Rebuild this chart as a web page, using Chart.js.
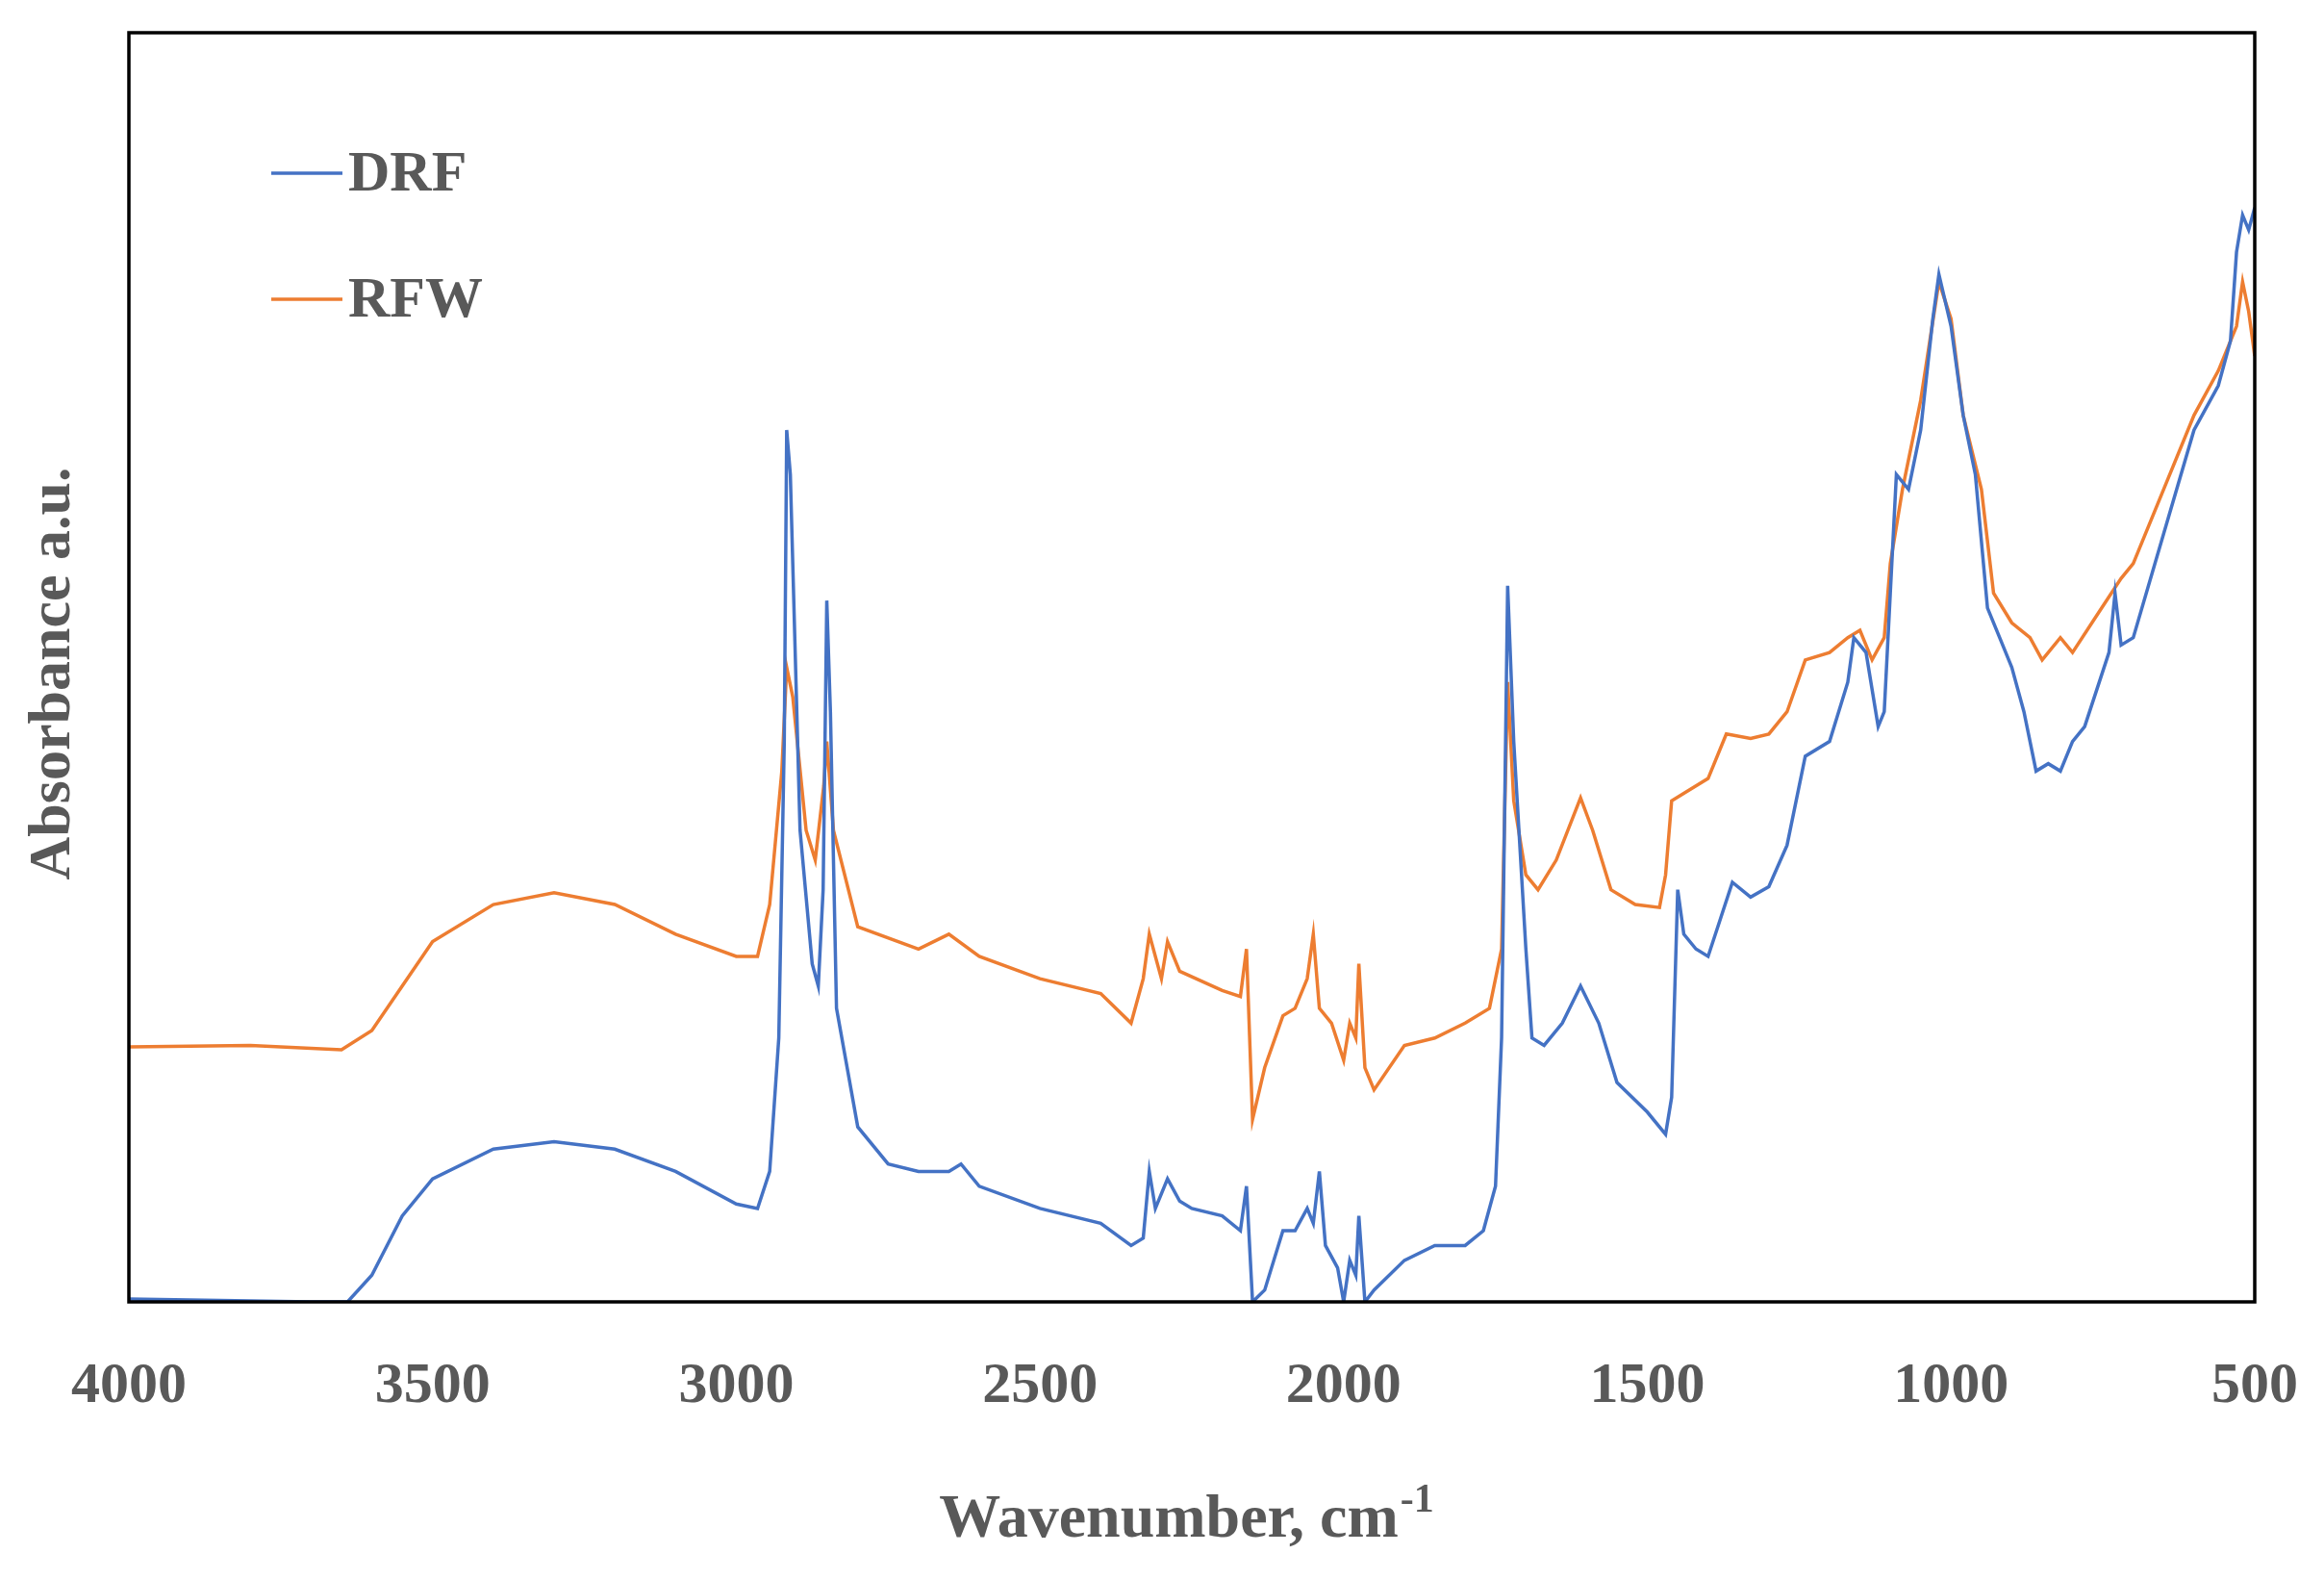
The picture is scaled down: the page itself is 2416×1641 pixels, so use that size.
<!DOCTYPE html>
<html><head><meta charset="utf-8">
<script src="https://cdn.jsdelivr.net/npm/chart.js@4"></script>
<style>html,body{margin:0;padding:0;background:#fff}#wrap{width:2416px;height:1641px}</style>
</head><body><div id="wrap"><canvas id="c"></canvas></div>
<script>
// Values are depth-from-top readings (arbitrary absorbance units, axis reversed)
const drfWave = [4000,3700,3640,3600,3550,3500,3400,3300,3200,3100,3000,2965,2945,2930,2921,2917,2911,2895,2875,2865,2857,2851,2845,2835,2800,2750,2700,2650,2630,2600,2500,2400,2350,2330,2320,2310,2290,2270,2250,2200,2170,2160,2150,2130,2100,2080,2060,2050,2040,2030,2010,2000,1990,1980,1975,1965,1950,1900,1850,1800,1770,1750,1740,1730,1720,1700,1690,1670,1640,1610,1580,1550,1500,1470,1460,1450,1440,1420,1400,1380,1360,1330,1300,1270,1240,1200,1170,1160,1140,1120,1110,1100,1090,1070,1050,1030,1020,1000,980,960,940,920,900,880,860,840,820,800,780,760,740,730,720,700,650,600,560,540,530,520,510,500];
const drfAbs = [876,878,878,860,820,795,775,770,775,790,812,815,790,700,500,290,320,560,650,665,600,405,480,680,760,785,790,790,785,800,815,825,840,835,790,815,795,810,815,820,830,800,878,870,830,830,815,825,790,840,855,878,850,860,820,878,870,850,840,840,830,800,700,395,500,640,700,705,690,665,690,730,750,765,740,600,630,640,645,620,595,605,598,570,510,500,460,430,440,490,480,400,320,330,290,215,185,220,280,320,410,430,450,480,520,515,520,500,490,465,440,400,435,430,360,290,260,230,170,145,155,140];
const rfwWave = [4000,3800,3650,3600,3550,3500,3400,3300,3200,3100,3000,2965,2945,2925,2917,2907,2885,2870,2856,2851,2840,2800,2700,2650,2600,2500,2400,2350,2330,2320,2300,2290,2270,2200,2170,2160,2150,2130,2100,2080,2060,2050,2040,2020,2000,1990,1980,1975,1965,1950,1900,1850,1800,1760,1740,1730,1720,1700,1680,1650,1610,1590,1560,1520,1480,1470,1460,1440,1400,1370,1330,1300,1270,1240,1200,1170,1150,1130,1110,1100,1080,1050,1020,1000,980,950,930,900,870,850,820,800,760,720,700,650,600,560,530,520,510,500];
const rfwAbs = [706,705,708,695,665,635,610,602,610,630,645,645,610,520,450,470,560,580,530,500,560,625,640,630,645,660,670,690,660,630,660,635,655,668,672,640,755,720,685,680,660,630,680,690,715,690,700,650,720,735,705,700,690,680,640,460,540,590,600,580,538,560,600,610,612,590,540,535,525,495,498,495,480,445,440,430,425,445,430,380,330,270,190,215,280,330,400,420,430,445,430,440,415,390,380,330,280,250,220,190,210,240];
const xTicks = [4000,3500,3000,2500,2000,1500,1000,500];
const seriesNames = ["DRF","RFW"];
const colors = ["#4472C4","#ED7D31"];

const mk = (w,a)=>w.map((x,i)=>({x, y:a[i]}));
const serif = '"Liberation Serif","DejaVu Serif",serif';
const deco = {
  id:'deco',
  afterDraw(ch){
    const c=ch.ctx, a=ch.chartArea, xs=ch.scales.x;
    c.save();
    c.strokeStyle='#000'; c.lineWidth=3.5;
    c.strokeRect(a.left,a.top,a.right-a.left,a.bottom-a.top);
    c.fillStyle='#595959'; c.font='bold 60px '+serif; c.textAlign='center'; c.textBaseline='middle';
    xTicks.forEach(t=>c.fillText(String(t), xs.getPixelForValue(t), 1441));
    c.font='bold 64px '+serif;
    c.fillText('Wavenumber, cm', 1215, 1580);
    const w=c.measureText('Wavenumber, cm').width;
    c.font='bold 42px '+serif; c.textAlign='left';
    c.fillText('-1', 1215+w/2+2, 1560);
    c.save(); c.translate(56,700); c.rotate(-Math.PI/2);
    c.font='bold 62px '+serif; c.textAlign='center';
    c.fillText('Absorbance a.u.',0,0); c.restore();
    [180,311].forEach((y,i)=>{
      c.strokeStyle=colors[i]; c.lineWidth=3.5;
      c.beginPath(); c.moveTo(282,y); c.lineTo(356,y); c.stroke();
      c.fillStyle='#595959'; c.font='bold 60px '+serif; c.textAlign='left';
      c.fillText(seriesNames[i],362,y+2);
    });
    c.restore();
  }
};
new Chart(document.getElementById('c'),{
  type:'line',
  data:{datasets:[
    {label:seriesNames[0],data:mk(drfWave,drfAbs),borderColor:colors[0],borderWidth:3.5,pointRadius:0,tension:0},
    {label:seriesNames[1],data:mk(rfwWave,rfwAbs),borderColor:colors[1],borderWidth:3.5,pointRadius:0,tension:0}
  ]},
  options:{
    responsive:true,maintainAspectRatio:false,animation:false,devicePixelRatio:1,
    layout:{padding:{left:134,right:72,top:34,bottom:288}},
    plugins:{legend:{display:false},tooltip:{enabled:false}},
    scales:{
      x:{type:'linear',reverse:true,min:500,max:4000,display:false},
      y:{type:'linear',reverse:true,min:22,max:878,display:false}
    }
  },
  plugins:[deco]
});
</script></body></html>
